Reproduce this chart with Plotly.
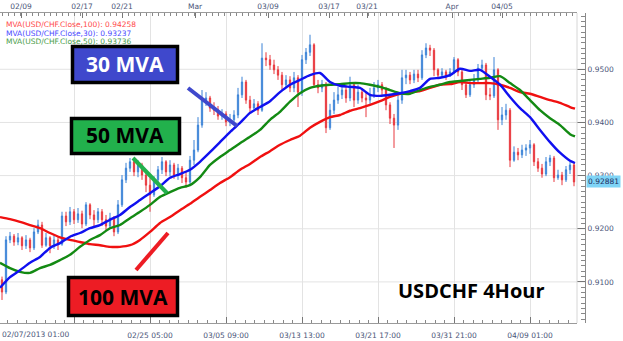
import plotly.graph_objects as go

# ---------------- data (USD/CHF 4-hour candles) ----------------
close = [
    0.9081, 0.9179, 0.9186, 0.9175, 0.9183, 0.9168, 0.9179, 0.9164, 0.9194, 0.9207,
    0.9169, 0.9183, 0.9168, 0.9179, 0.9171, 0.9224, 0.9213, 0.9232, 0.9217, 0.9228,
    0.9209, 0.9245, 0.9226, 0.9217, 0.9232, 0.9217, 0.9205, 0.9220, 0.9194, 0.9245,
    0.9292, 0.9314, 0.9326, 0.9307, 0.9320, 0.9301, 0.9282, 0.9264, 0.9292, 0.9311,
    0.9326, 0.9307, 0.9320, 0.9301, 0.9314, 0.9296, 0.9288, 0.9329, 0.9348, 0.9395,
    0.9442, 0.9446, 0.9427, 0.9423, 0.9412, 0.9416, 0.9401, 0.9405, 0.9414, 0.9452,
    0.9476, 0.9442, 0.9427, 0.9435, 0.9423, 0.9521, 0.9518, 0.9508, 0.9499, 0.9489,
    0.9471, 0.9480, 0.9465, 0.9484, 0.9457, 0.9518, 0.9532, 0.9546, 0.9471, 0.9465,
    0.9472, 0.9390, 0.9423, 0.9442, 0.9452, 0.9461, 0.9446, 0.9471, 0.9442, 0.9457,
    0.9446, 0.9442, 0.9452, 0.9465, 0.9471, 0.9461, 0.9433, 0.9408, 0.9395, 0.9442,
    0.9484, 0.9489, 0.9480, 0.9491, 0.9484, 0.9527, 0.9540, 0.9536, 0.9499, 0.9489,
    0.9495, 0.9487, 0.9495, 0.9518, 0.9495, 0.9471, 0.9452, 0.9471, 0.9480, 0.9502,
    0.9508, 0.9452, 0.9450, 0.9499, 0.9405, 0.9414, 0.9423, 0.9329, 0.9344, 0.9339,
    0.9348, 0.9352, 0.9358, 0.9326, 0.9314, 0.9303, 0.9326, 0.9333, 0.9296, 0.9301,
    0.9292, 0.9311, 0.9320, 0.92881,
]
high = [
    0.9110, 0.9186, 0.9194, 0.9190, 0.9192, 0.9186, 0.9188, 0.9183, 0.9201, 0.9217,
    0.9213, 0.9192, 0.9186, 0.9188, 0.9184, 0.9232, 0.9232, 0.9241, 0.9237, 0.9239,
    0.9234, 0.9250, 0.9248, 0.9235, 0.9239, 0.9237, 0.9226, 0.9230, 0.9224, 0.9254,
    0.9301, 0.9324, 0.9333, 0.9329, 0.9329, 0.9324, 0.9307, 0.9296, 0.9299, 0.9318,
    0.9335, 0.9329, 0.9329, 0.9324, 0.9322, 0.9318, 0.9307, 0.9337, 0.9367, 0.9410,
    0.9461, 0.9457, 0.9450, 0.9438, 0.9431, 0.9425, 0.9421, 0.9416, 0.9423, 0.9465,
    0.9486, 0.9480, 0.9450, 0.9444, 0.9440, 0.9549, 0.9532, 0.9527, 0.9518, 0.9506,
    0.9495, 0.9489, 0.9487, 0.9495, 0.9489, 0.9527, 0.9540, 0.9565, 0.9549, 0.9480,
    0.9480, 0.9476, 0.9435, 0.9457, 0.9467, 0.9472, 0.9469, 0.9486, 0.9476, 0.9471,
    0.9465, 0.9457, 0.9465, 0.9476, 0.9480, 0.9476, 0.9467, 0.9438, 0.9416, 0.9452,
    0.9499, 0.9499, 0.9495, 0.9499, 0.9499, 0.9536, 0.9549, 0.9546, 0.9540, 0.9502,
    0.9502, 0.9499, 0.9502, 0.9523, 0.9521, 0.9499, 0.9474, 0.9480, 0.9491, 0.9510,
    0.9518, 0.9512, 0.9465, 0.9523, 0.9502, 0.9429, 0.9435, 0.9427, 0.9355, 0.9352,
    0.9358, 0.9359, 0.9367, 0.9361, 0.9333, 0.9322, 0.9335, 0.9339, 0.9337, 0.9311,
    0.9307, 0.9318, 0.9326, 0.9324,
]
low = [
    0.9066, 0.9077, 0.9173, 0.9168, 0.9169, 0.9160, 0.9162, 0.9156, 0.9160, 0.9190,
    0.9164, 0.9166, 0.9154, 0.9162, 0.9160, 0.9168, 0.9205, 0.9207, 0.9209, 0.9211,
    0.9201, 0.9205, 0.9218, 0.9203, 0.9211, 0.9205, 0.9196, 0.9200, 0.9186, 0.9190,
    0.9241, 0.9286, 0.9307, 0.9299, 0.9297, 0.9292, 0.9269, 0.9232, 0.9260, 0.9284,
    0.9303, 0.9299, 0.9299, 0.9294, 0.9292, 0.9286, 0.9277, 0.9282, 0.9320, 0.9344,
    0.9390, 0.9431, 0.9420, 0.9414, 0.9405, 0.9405, 0.9393, 0.9393, 0.9397, 0.9408,
    0.9446, 0.9435, 0.9416, 0.9421, 0.9414, 0.9420, 0.9506, 0.9499, 0.9491, 0.9480,
    0.9461, 0.9465, 0.9457, 0.9457, 0.9429, 0.9450, 0.9510, 0.9525, 0.9465, 0.9455,
    0.9457, 0.9380, 0.9386, 0.9416, 0.9435, 0.9444, 0.9437, 0.9440, 0.9429, 0.9435,
    0.9438, 0.9410, 0.9435, 0.9446, 0.9457, 0.9452, 0.9423, 0.9397, 0.9352, 0.9386,
    0.9435, 0.9472, 0.9472, 0.9474, 0.9476, 0.9480, 0.9521, 0.9525, 0.9487, 0.9482,
    0.9484, 0.9480, 0.9486, 0.9491, 0.9487, 0.9461, 0.9446, 0.9448, 0.9465, 0.9476,
    0.9495, 0.9442, 0.9442, 0.9446, 0.9386, 0.9395, 0.9405, 0.9316, 0.9326, 0.9329,
    0.9333, 0.9337, 0.9341, 0.9318, 0.9307, 0.9296, 0.9299, 0.9318, 0.9288, 0.9292,
    0.9282, 0.9288, 0.9303, 0.9280,
]
first_open = 0.9104
opens = [first_open] + close[:-1]
bars = list(range(len(close)))

# moving averages sampled every 2.5 bars (last point on the final bar)
ma100 = [
    0.9222, 0.9218, 0.9213, 0.9207, 0.9201, 0.9192, 0.9184, 0.9179, 0.9175, 0.9171,
    0.9169, 0.9166, 0.9166, 0.9169, 0.9179, 0.9194, 0.9211, 0.9222, 0.9235, 0.9247,
    0.9260, 0.9273, 0.9286, 0.9297, 0.9311, 0.9322, 0.9335, 0.9346, 0.9358, 0.9367,
    0.9375, 0.9390, 0.9401, 0.9410, 0.9414, 0.9422, 0.9427, 0.9433, 0.9440, 0.9448,
    0.9454, 0.9457, 0.9459, 0.9465, 0.9471, 0.9472, 0.9476, 0.9474, 0.9474, 0.9474,
    0.9471, 0.9465, 0.9457, 0.9454, 0.9448, 0.9442, 0.9437, 0.9429, 0.94258,
]
ma30 = [
    0.9089, 0.9109, 0.9122, 0.9136, 0.9147, 0.9164, 0.9173, 0.9185, 0.9192, 0.9201,
    0.9207, 0.9217, 0.9226, 0.9241, 0.9254, 0.9267, 0.9280, 0.9296, 0.9303, 0.9311,
    0.9326, 0.9344, 0.9363, 0.9382, 0.9399, 0.9418, 0.9429, 0.9440, 0.9457, 0.9471,
    0.9480, 0.9489, 0.9493, 0.9476, 0.9469, 0.9467, 0.9465, 0.9452, 0.9450, 0.9452,
    0.9455, 0.9459, 0.9465, 0.9482, 0.9484, 0.9489, 0.9501, 0.9497, 0.9499, 0.9486,
    0.9471, 0.9448, 0.9427, 0.9410, 0.9386, 0.9363, 0.9343, 0.9328, 0.93237,
]
ma50 = [
    0.9136, 0.9126, 0.9119, 0.9117, 0.9126, 0.9132, 0.9141, 0.9151, 0.9166, 0.9179,
    0.9188, 0.9201, 0.9207, 0.9220, 0.9232, 0.9245, 0.9260, 0.9269, 0.9277, 0.9282,
    0.9297, 0.9320, 0.9335, 0.9348, 0.9361, 0.9373, 0.9386, 0.9405, 0.9420, 0.9439,
    0.9455, 0.9465, 0.9469, 0.9471, 0.9472, 0.9474, 0.9474, 0.9471, 0.9467, 0.9461,
    0.9455, 0.9454, 0.9461, 0.9467, 0.9471, 0.9476, 0.9478, 0.9480, 0.9482, 0.9484,
    0.9487, 0.9474, 0.9461, 0.9442, 0.9423, 0.9408, 0.9395, 0.9378, 0.93736,
]
ma_bar = [-0.5 + 2.5 * k for k in range(len(ma100) - 1)] + [143.25]
assert len(ma100) == len(ma30) == len(ma50) == len(ma_bar)
assert len(close) == len(high) == len(low)

legend_names = ["MVA(USD/CHF.Close,100): 0.94258",
                "MVA(USD/CHF.Close,30): 0.93237",
                "MVA(USD/CHF.Close,50): 0.93736"]
last_price = 0.92881

# axis ticks
price_ticks = [0.91, 0.92, 0.93, 0.94, 0.95]
price_labels = ["0.9100", "0.9200", "0.9300", "0.9400", "0.9500"]
bottom_bars = [18, 37, 56, 75, 94, 113, 132]
bottom_labels = ["", "02/25 05:00", "03/05 09:00", "03/13 13:00",
                 "03/21 17:00", "03/31 21:00", "04/09 01:00"]
first_label = "02/07/2013 01:00"
top_bars = [4.75, 20, 30, 48.25, 66.5, 81.75, 91.25, 112.5, 125]
top_labels = ["02/09", "02/17", "02/21", "Mar", "03/09", "03/17", "03/21", "Apr", "04/05"]

# ---------------- colours / geometry ----------------
RED_MA, BLUE_MA, GREEN_MA = "#f01010", "#1010f0", "#138a13"
AX_FONT = dict(family="DejaVu Sans", size=7.5, color="#4a5578")
W, H = 623, 341
ML, MR, MT, MB = 0, 38, 13, 18
PW, PH = W - ML - MR, H - MT - MB   # 585 x 310


def px(x):
    return (x - ML) / PW


def py(y):
    return (H - MB - y) / PH


fig = go.Figure()
fig.add_trace(go.Candlestick(
    x=bars, open=opens, high=high, low=low, close=close,
    increasing=dict(line=dict(color="#3a82d6", width=1), fillcolor="#8ab8ec"),
    decreasing=dict(line=dict(color="#e8383e", width=1), fillcolor="#ee4a50"),
    hoverinfo="skip", showlegend=False,
))
for vals, col in [(ma100, RED_MA), (ma50, GREEN_MA), (ma30, BLUE_MA)]:
    fig.add_trace(go.Scatter(x=ma_bar, y=vals, mode="lines",
                             line=dict(color=col, width=2.4, shape="spline", smoothing=0.6),
                             hoverinfo="skip", showlegend=False))
# helper trace so the top (date) axis is drawn
fig.add_trace(go.Scatter(x=[bars[0]], y=[close[0]], xaxis="x2", mode="markers",
                         marker=dict(opacity=0), hoverinfo="skip", showlegend=False))

shapes = []
# horizontal grid
for t in price_ticks:
    shapes.append(dict(type="line", xref="paper", x0=0, x1=1, yref="y", y0=t, y1=t,
                       line=dict(color="#e3e3e3", width=1), layer="below"))
# plot right border
shapes.append(dict(type="line", xref="x domain", x0=1, x1=1, yref="paper", y0=0, y1=1,
                   line=dict(color="#d6d6d6", width=1)))

# pointer strokes
for (x0, y0, x1, y1, col) in [(188, 88, 237, 126, "#3f48cc"),
                              (133, 158, 167, 193, "#22b14c"),
                              (136, 270, 168, 233, "#ed1c24")]:
    shapes.append(dict(type="line", xref="paper", yref="paper",
                       x0=px(x0), y0=py(y0), x1=px(x1), y1=py(y1),
                       line=dict(color=col, width=4)))
# label boxes
boxes = [((72.5, 46.5, 177.5, 82.5), "#3f48cc", "30 MVA", "white", (125, 64)),
         ((71.5, 118.5, 179.5, 153.5), "#22b14c", "50 MVA", "black", (125, 135)),
         ((68.5, 277.5, 177.5, 315.5), "#ed1c24", "100 MVA", "black", (123, 297))]
annotations = []
for (x0, y0, x1, y1), fill, txt, tcol, (cx, cy) in boxes:
    shapes.append(dict(type="rect", xref="paper", yref="paper",
                       x0=px(x0), y0=py(y1), x1=px(x1), y1=py(y0),
                       fillcolor=fill, line=dict(color="black", width=3.5)))
    annotations.append(dict(text="<b>%s</b>" % txt, xref="paper", yref="paper",
                            x=px(cx), y=py(cy), xanchor="center", yanchor="middle",
                            showarrow=False,
                            font=dict(family="Open Sans", size=21, color=tcol)))

annotations.append(dict(text="<b>USDCHF 4Hour</b>", xref="paper", yref="paper",
                        x=px(471), y=py(290), xanchor="center", yanchor="middle",
                        showarrow=False, font=dict(family="Open Sans", size=20, color="black")))

for i, (name, col) in enumerate(zip(legend_names, ["#ff4a4a", "#4a4aff", "#4a9e4a"])):
    annotations.append(dict(text=name, xref="paper", yref="paper",
                            x=px(4), y=py(25 + 8.5 * i), xanchor="left", yanchor="middle",
                            showarrow=False, font=dict(family="DejaVu Sans", size=7.5, color=col)))

annotations.append(dict(text=first_label, xref="paper", yref="paper",
                        x=0, y=py(334), xanchor="left", yanchor="middle",
                        showarrow=False, font=AX_FONT))
annotations.append(dict(text=f"{last_price:.5f}", xref="paper", yref="y",
                        x=1, y=last_price, xanchor="left", yanchor="middle", xshift=1,
                        showarrow=False, bgcolor="#7fd4f6", borderpad=1,
                        font=dict(family="DejaVu Sans", size=7.5, color="#1d2b60")))

xr = [-0.5, 143.75]
xdom = [0, 577 / PW]
fig.update_layout(
    width=W, height=H, margin=dict(l=ML, r=MR, t=MT, b=MB),
    paper_bgcolor="white", plot_bgcolor="white", showlegend=False,
    hovermode=False, boxgap=0.55,
    xaxis=dict(domain=xdom, range=xr, tickmode="array", tickvals=bottom_bars,
               ticktext=bottom_labels, showgrid=True, gridcolor="#e3e3e3", gridwidth=1,
               ticks="inside", ticklen=6, tickcolor="#777", showline=True,
               linecolor="#9a9a9a", zeroline=False, tickfont=AX_FONT,
               ticklabelstandoff=5,
               rangeslider=dict(visible=False),
               minor=dict(tickmode="linear", tick0=18, dtick=2.375, ticks="inside",
                          ticklen=3, tickcolor="#888")),
    xaxis2=dict(domain=xdom, range=xr, overlaying="x", side="top", anchor="y",
                tickmode="array", tickvals=top_bars, ticktext=top_labels,
                showgrid=False, ticks="inside", ticklen=5, tickcolor="#777",
                showline=True, linecolor="#9a9a9a", zeroline=False, tickfont=AX_FONT,
                minor=dict(tickmode="linear", tick0=0, dtick=1.5, ticks="inside",
                           ticklen=3, tickcolor="#888")),
    yaxis=dict(range=[0.90227, 0.96059], anchor="free", position=1, side="right",
               tickmode="array", tickvals=price_ticks, ticktext=price_labels,
               showgrid=False, zeroline=False, ticks="inside", ticklen=8,
               tickcolor="#777", showline=True, linecolor="#8a8a8a", tickfont=AX_FONT,
               minor=dict(tickmode="linear", tick0=0.9, dtick=0.001, ticks="inside",
                          ticklen=4, tickcolor="#888")),
    shapes=shapes, annotations=annotations,
)

fig.write_html("out.html")
